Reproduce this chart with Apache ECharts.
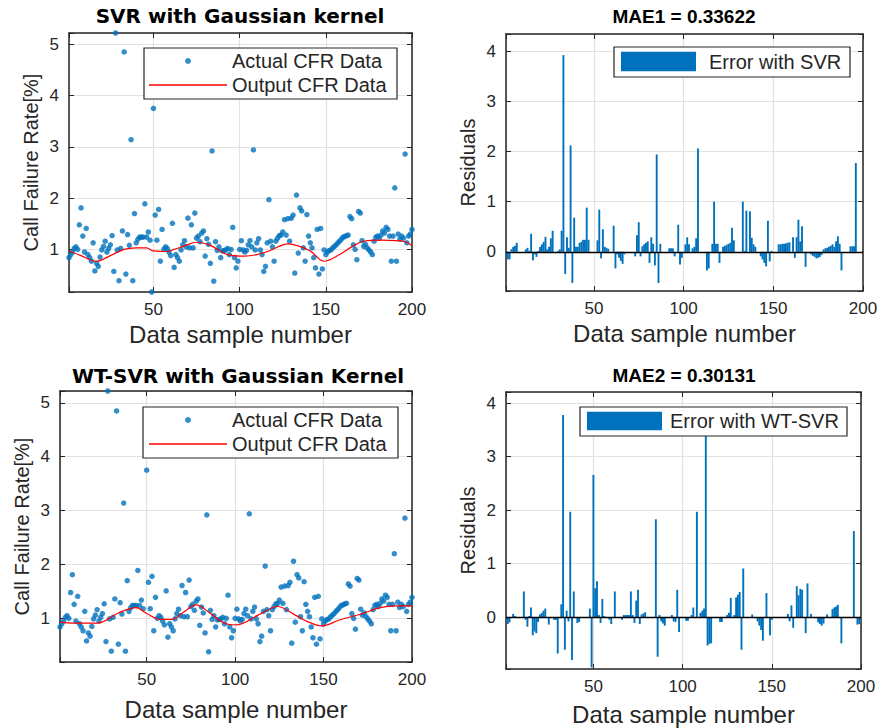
<!DOCTYPE html>
<html><head><meta charset="utf-8">
<script src="https://cdn.jsdelivr.net/npm/echarts@6/dist/echarts.min.js"></script>
<style>html,body{margin:0;padding:0;background:#fff}#c{width:883px;height:728px}</style>
</head><body><div id="c"></div>
<script>
// ---------- data ----------
const actualCFR = [
0.84,0.90,0.95,1.02,1.05,1.00,1.48,1.81,1.26,0.95,
1.41,0.90,0.84,0.77,1.13,0.58,0.73,0.67,0.85,0.99,
1.06,1.16,0.95,1.02,1.09,1.27,0.57,5.22,0.99,0.39,
1.02,1.36,4.85,0.52,1.29,1.08,3.14,0.39,1.70,1.13,
1.20,1.24,1.24,1.24,1.89,1.24,1.34,1.18,0.17,3.75,
1.67,1.18,1.78,0.77,1.39,1.00,1.05,1.02,0.95,0.88,
1.51,0.65,0.90,0.84,0.77,0.99,1.09,1.17,1.05,1.61,
1.03,1.48,1.03,1.71,1.22,1.26,1.15,1.32,1.36,0.87,
1.21,1.10,0.73,2.92,0.38,1.15,0.98,1.05,0.84,0.97,
0.98,0.99,1.02,0.90,1.00,1.43,0.84,0.64,0.77,1.00,
1.17,0.99,0.95,0.98,1.09,1.17,1.05,2.94,0.99,1.13,
1.21,0.99,0.90,0.57,0.67,1.13,1.97,1.16,1.05,0.77,
1.16,1.22,1.27,1.28,1.34,1.58,1.28,1.60,1.16,1.61,
1.67,0.54,2.06,0.93,1.81,1.75,1.03,0.77,1.68,1.26,
1.13,1.03,0.84,0.64,1.39,0.52,1.41,0.62,0.99,0.90,
0.95,0.98,0.99,1.03,1.06,1.09,1.13,1.16,1.20,1.24,
1.25,1.27,1.28,1.64,1.60,1.09,1.00,0.80,1.74,1.71,
1.17,1.06,1.10,1.03,0.99,0.95,0.90,1.16,1.24,1.26,
1.22,1.28,1.36,1.32,1.43,1.39,1.26,0.77,1.26,2.20,
0.77,1.30,1.20,1.26,1.22,2.86,1.13,1.26,1.30,1.39];

// SVR output curve
const svrCurveX = [1,8,17,25,33,40,46,50,58,62,68,75,83,93,103,110,117,128,134,141,149,158,165,172,183,196,200];
const svrCurveY = [0.97,0.88,0.77,0.88,1.00,1.03,1.03,0.97,0.96,1.00,1.07,1.14,1.08,0.90,0.87,0.90,0.97,1.11,1.07,0.97,0.77,0.90,1.05,1.16,1.18,1.15,1.07];

// WT-SVR output curve
const wtCurveX = [1,9,22,34,44,50,58,64,71,78,85,94,101,113,124,134,141,149,159,172,182,191,200];
const wtCurveY = [0.93,0.91,0.91,1.10,1.20,1.09,0.98,0.98,1.12,1.25,1.12,0.91,0.88,1.06,1.22,1.06,0.94,0.86,0.97,1.09,1.20,1.23,1.23];

// residuals, SVR
const residSVR = [
-0.05,-0.15,-0.15,0.05,0.10,0.12,0.18,0.00,0.00,0.00,
0.00,0.05,0.08,0.02,0.36,-0.17,-0.05,-0.10,0.02,0.10,
0.15,0.20,0.30,0.05,0.10,0.27,0.42,0.00,0.00,0.02,
0.05,0.42,3.92,-0.44,0.29,0.08,2.12,-0.62,0.68,0.10,
0.10,0.18,0.20,0.24,0.24,0.88,0.24,0.00,0.00,0.00,
0.00,0.23,0.84,-0.13,0.45,0.10,0.08,0.06,0.00,0.00,
0.52,-0.33,-0.05,-0.12,-0.18,-0.24,-0.05,0.00,0.00,0.00,
0.00,0.00,-0.09,0.33,0.59,-0.09,0.11,0.15,0.18,0.21,
-0.22,0.29,0.16,-0.27,1.94,-0.62,0.16,0.00,0.00,0.00,
0.00,0.07,0.07,0.07,-0.09,0.00,0.54,-0.25,-0.12,0.00,
0.15,0.29,0.15,0.00,0.07,0.10,0.27,2.06,0.00,0.00,
0.00,0.00,-0.37,-0.33,0.00,0.16,1.00,0.16,0.16,-0.22,
0.00,0.10,0.12,0.14,0.16,0.18,0.48,0.23,0.00,0.00,
0.00,0.00,1.00,0.02,0.82,0.00,0.81,0.28,0.15,0.10,
0.00,0.00,-0.09,-0.15,-0.22,-0.29,0.62,-0.19,0.02,0.00,
0.00,0.00,0.15,0.15,0.16,0.16,0.17,0.18,0.19,0.00,
0.29,-0.12,0.29,0.64,0.21,0.51,0.00,-0.30,0.00,0.00,
-0.05,-0.08,-0.10,-0.13,-0.12,-0.10,-0.06,0.05,0.07,0.08,
0.10,0.12,0.15,0.10,0.21,0.31,0.16,-0.37,0.00,0.00,
0.00,0.00,0.11,0.11,0.11,1.77,0.00,0.00,0.00,0.00];

// residuals, WT-SVR
const residWT = [
0.00,-0.13,-0.10,0.00,0.06,0.02,0.00,0.00,0.00,0.00,
0.48,-0.05,-0.18,0.02,0.18,-0.34,-0.27,-0.30,-0.09,0.05,
0.08,0.12,0.16,0.00,-0.14,0.00,0.00,-0.05,-0.05,-0.68,
0.00,0.24,3.78,-0.61,0.12,-0.08,1.97,-0.80,0.48,0.00,
-0.11,-0.09,0.00,0.00,0.00,0.00,0.00,0.16,-0.94,2.66,
0.54,0.67,0.04,-0.11,0.34,0.02,0.00,0.00,-0.05,-0.13,
0.00,0.48,0.00,0.00,0.00,-0.05,0.04,0.04,0.04,0.04,
0.48,0.04,-0.11,0.31,0.51,-0.13,0.05,0.07,0.09,0.00,
0.00,0.00,0.00,0.00,1.83,-0.74,0.04,-0.08,-0.12,-0.16,
0.00,0.00,0.00,0.04,-0.08,-0.09,0.51,-0.28,0.00,0.00,
0.00,-0.07,-0.07,0.00,0.04,0.18,0.00,1.97,0.00,0.08,
0.12,0.16,3.39,-0.53,-0.50,-0.49,0.00,0.00,0.00,0.00,
-0.09,-0.09,0.00,0.00,0.04,0.08,0.36,0.00,0.04,0.37,
0.42,0.47,-0.61,0.91,0.00,0.00,0.00,0.00,0.05,0.00,
0.00,-0.08,-0.16,-0.24,-0.44,0.00,0.45,0.00,-0.34,-0.05,
0.00,0.00,0.00,0.00,0.00,0.00,0.00,0.00,0.06,-0.08,
0.22,-0.20,0.00,0.58,0.41,0.53,0.51,0.00,-0.30,0.63,
0.00,0.06,0.00,0.00,0.00,-0.10,-0.13,-0.16,-0.12,0.00,
0.05,0.00,0.00,0.15,0.18,0.20,0.23,0.00,-0.49,0.00,
0.00,0.00,0.00,0.00,0.00,1.61,0.00,-0.14,-0.13,0.00];

const xTickLabels = [50, 100, 150, 200];
const titles = ['SVR with Gaussian kernel', 'MAE1 = 0.33622', 'WT-SVR with Gaussian Kernel', 'MAE2 = 0.30131'];

// ---------- chart ----------
const sampleNo = [];
for (let i = 1; i <= actualCFR.length; i++) sampleNo.push(i);
const pairs = (xs, ys) => ys.map((v, i) => [xs[i], v]);

const BLUE = '#0072BD', AX = '#262626', GRID = '#e2e2e2';
const FONT = 'Liberation Sans';

const grids = [
  {left: 69, top: 33, width: 343, height: 259},
  {left: 506, top: 34, width: 357, height: 257},
  {left: 60, top: 391, width: 352, height: 271},
  {left: 506, top: 392, width: 355, height: 277}
];
const yRanges = [[0.17, 5.22], [-0.78, 4.34], [0.19, 5.22], [-0.97, 4.21]];
const yNames = ['Call Failure Rate[%]', 'Residuals', 'Call Failure Rate[%]', 'Residuals'];
const xNameGaps = [30, 30, 35, 33];

const intLabel = v => (Math.abs(v - Math.round(v)) < 1e-6 ? String(Math.round(v)) : '');
const xLabel = v => (xTickLabels.indexOf(Math.round(v)) >= 0 && Math.abs(v - Math.round(v)) < 1e-6 ? String(Math.round(v)) : '');

const xAxes = [], yAxes = [];
grids.forEach((g, gi) => {
  const lineStyle = {color: AX, width: 1.5};
  xAxes.push({
    gridIndex: gi, type: 'value', min: 1, max: 200, splitNumber: 4, position: 'bottom',
    axisLine: {show: true, onZero: false, lineStyle},
    axisTick: {show: true, inside: true, length: 5, lineStyle: {color: AX}},
    axisLabel: {show: true, formatter: xLabel, color: '#262626', fontFamily: FONT, fontSize: 17, margin: 9},
    splitLine: {show: true, lineStyle: {color: GRID, width: 1.2}},
    name: 'Data sample number', nameLocation: 'middle', nameGap: xNameGaps[gi],
    nameTextStyle: {fontFamily: FONT, fontSize: 24, color: '#262626'}
  });
  xAxes.push({
    gridIndex: gi, type: 'value', min: 1, max: 200, splitNumber: 4, position: 'top',
    axisLine: {show: true, onZero: false, lineStyle},
    axisTick: {show: true, inside: true, length: 5, lineStyle: {color: AX}},
    axisLabel: {show: false}, splitLine: {show: false}
  });
  yAxes.push({
    gridIndex: gi, type: 'value', min: yRanges[gi][0], max: yRanges[gi][1], splitNumber: 5, position: 'left',
    axisLine: {show: true, onZero: false, lineStyle},
    axisTick: {show: true, inside: true, length: 5, lineStyle: {color: AX}},
    axisLabel: {show: true, formatter: intLabel, color: '#262626', fontFamily: FONT, fontSize: 17, margin: 10},
    splitLine: {show: true, lineStyle: {color: GRID, width: 1.2}},
    name: yNames[gi], nameLocation: 'middle', nameGap: 28, nameRotate: 90,
    nameTextStyle: {fontFamily: FONT, fontSize: 20, color: '#262626'}
  });
  yAxes.push({
    gridIndex: gi, type: 'value', min: yRanges[gi][0], max: yRanges[gi][1], splitNumber: 5, position: 'right',
    axisLine: {show: true, onZero: false, lineStyle},
    axisTick: {show: true, inside: true, length: 5, lineStyle: {color: AX}},
    axisLabel: {show: false}, splitLine: {show: false}
  });
});

const zeroLine = {
  silent: true, symbol: 'none', label: {show: false},
  lineStyle: {color: '#000', type: 'solid', width: 1.3},
  data: [{yAxis: 0}], animation: false
};

const series = [
  {name: 'Actual CFR Data', type: 'scatter', xAxisIndex: 0, yAxisIndex: 0, symbolSize: 5.5,
   itemStyle: {color: BLUE}, data: pairs(sampleNo, actualCFR)},
  {name: 'Output CFR Data', type: 'line', xAxisIndex: 0, yAxisIndex: 0, symbol: 'none', showSymbol: false, smooth: 0.35,
   lineStyle: {color: '#ff0000', width: 1.2}, itemStyle: {color: '#ff0000'}, data: pairs(svrCurveX, svrCurveY)},
  {name: 'Error with SVR', type: 'bar', xAxisIndex: 2, yAxisIndex: 2, barWidth: 1.9,
   itemStyle: {color: BLUE}, data: pairs(sampleNo, residSVR), markLine: zeroLine},
  {name: 'Actual CFR Data', type: 'scatter', xAxisIndex: 4, yAxisIndex: 4, symbolSize: 5.5,
   itemStyle: {color: BLUE}, data: pairs(sampleNo, actualCFR)},
  {name: 'Output CFR Data', type: 'line', xAxisIndex: 4, yAxisIndex: 4, symbol: 'none', showSymbol: false, smooth: 0.35,
   lineStyle: {color: '#ff0000', width: 1.2}, itemStyle: {color: '#ff0000'}, data: pairs(wtCurveX, wtCurveY)},
  {name: 'Error with WT-SVR', type: 'bar', xAxisIndex: 6, yAxisIndex: 6, barWidth: 1.9,
   itemStyle: {color: BLUE}, data: pairs(sampleNo, residWT), markLine: zeroLine}
];

// legends: entries without frame; frames drawn as graphic rects underneath
const legTxt = (padLeft) => ({fontFamily: FONT, fontSize: 20, lineHeight: 20, color: '#262626', padding: [0, 0, 0, padLeft]});
const legBase = {orient: 'horizontal', selectedMode: false, padding: 0, z: 5};
const legends = [
  Object.assign({}, legBase, {left: 185, top: 51, itemWidth: 6, itemHeight: 6, textStyle: legTxt(36),
    data: [{name: 'Actual CFR Data', icon: 'circle'}]}),
  Object.assign({}, legBase, {left: 149, top: 75, itemWidth: 78, itemHeight: 1.6, textStyle: legTxt(0),
    data: [{name: 'Output CFR Data', icon: 'rect'}]}),
  Object.assign({}, legBase, {left: 621, top: 51.5, itemWidth: 75, itemHeight: 19.5, textStyle: legTxt(8),
    data: [{name: 'Error with SVR', icon: 'rect'}]}),
  Object.assign({}, legBase, {left: 185, top: 410, itemWidth: 6, itemHeight: 6, textStyle: legTxt(36),
    data: [{name: 'Actual CFR Data', icon: 'circle'}]}),
  Object.assign({}, legBase, {left: 149, top: 434, itemWidth: 78, itemHeight: 1.6, textStyle: legTxt(0),
    data: [{name: 'Output CFR Data', icon: 'rect'}]}),
  Object.assign({}, legBase, {left: 587, top: 411, itemWidth: 75, itemHeight: 18.5, textStyle: legTxt(3),
    data: [{name: 'Error with WT-SVR', icon: 'rect'}]})
];
const legendFrames = [[144, 48, 253, 51], [614, 47, 236, 30], [143, 407, 255, 51], [580, 407, 267, 29]];
const graphics = legendFrames.map(f => ({
  type: 'rect', z: 4, silent: true,
  shape: {x: f[0], y: f[1], width: f[2], height: f[3]},
  style: {fill: '#fff', stroke: AX, lineWidth: 1.2}
}));

const titleCenters = [[240, 6], [684, 7], [238, 366], [684, 366]];
const titleFonts = [['DejaVu Sans', 20], [FONT, 19], ['DejaVu Sans', 20], [FONT, 19]];
const titleOpts = titles.map((t, i) => ({
  text: t, left: titleCenters[i][0], top: titleCenters[i][1], textAlign: 'center',
  textStyle: {fontFamily: titleFonts[i][0], fontSize: titleFonts[i][1], fontWeight: 'bold', color: '#000'}, padding: 0
}));

const chart = echarts.init(document.getElementById('c'), null, {renderer: 'svg'});
chart.setOption({
  animation: false, backgroundColor: '#fff',
  title: titleOpts, legend: legends, grid: grids, graphic: graphics,
  xAxis: xAxes, yAxis: yAxes, series: series
});
</script></body></html>
